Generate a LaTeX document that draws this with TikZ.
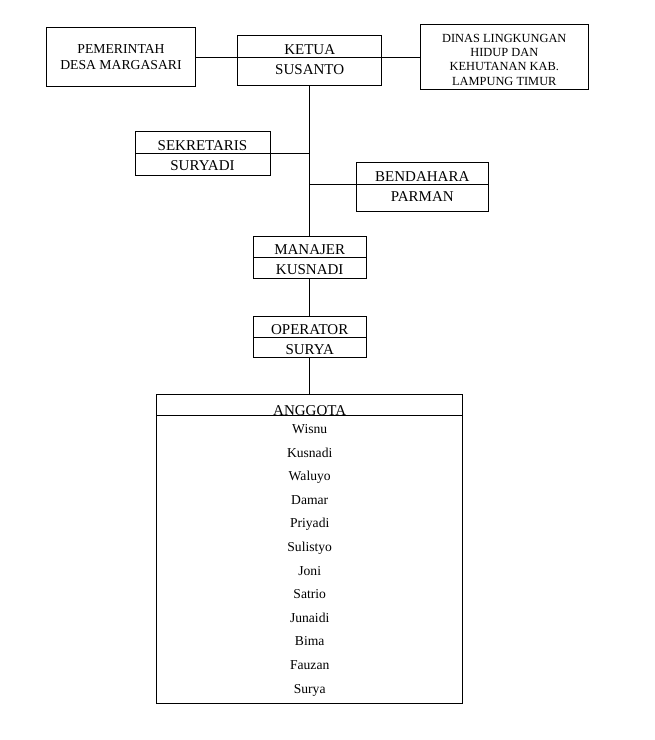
\documentclass[tikz,border=0pt]{standalone}
\usepackage{fontspec}
\setmainfont{Liberation Serif}
\usetikzlibrary{positioning}
\begin{document}
\begin{tikzpicture}
[x=1pt,y=-1pt,line width=0.9pt,
 headbox/.style={draw,outer sep=0pt,inner ysep=0pt,text height=18.5pt,text depth=3pt,font=\fontsize{15}{18}\selectfont},
 namebox/.style={draw,outer sep=0pt,inner ysep=0pt,text height=17pt,text depth=#1,font=\fontsize{15}{18}\selectfont},
 member/.style={anchor=base,font=\fontsize{13.6}{16}\selectfont}]
\useasboundingbox[fill=white] (0,0) rectangle (655,740);
\node[draw,minimum width=148.3pt,minimum height=59.3pt,align=center,font=\fontsize{13.7}{16}\selectfont](pem) at (121,57){PEMERINTAH\\DESA MARGASARI};
\node[draw,minimum width=167.3pt,minimum height=65pt,align=center,font=\fontsize{12.4}{14.4}\selectfont](dinas) at (504.3,57){\rule{0pt}{13.6pt}DINAS LINGKUNGAN\\HIDUP DAN\\KEHUTANAN KAB.\\LAMPUNG TIMUR};
\node[headbox,minimum width=144pt,anchor=north](ketua) at (309.7,35.5){KETUA};
\node[namebox=11pt,minimum width=144pt,below=0pt of ketua](susanto){SUSANTO};
\node[headbox,minimum width=135pt,anchor=north](sekretaris) at (202.5,131.7){SEKRETARIS};
\node[namebox=5.7pt,minimum width=135pt,below=0pt of sekretaris](suryadi){SURYADI};
\node[headbox,minimum width=131.3pt,anchor=north](bendahara) at (422.3,162.7){BENDAHARA};
\node[namebox=10.7pt,minimum width=131.3pt,below=0pt of bendahara](parman){PARMAN};
\node[headbox,minimum width=113pt,below=151pt of susanto](manajer){MANAJER};
\node[namebox=4pt,minimum width=113pt,below=0pt of manajer](kusnadi){KUSNADI};
\node[headbox,minimum width=113pt,below=37.5pt of kusnadi](operator){OPERATOR};
\node[namebox=3pt,minimum width=113pt,below=0pt of operator](surya){SURYA};
\node[headbox,text height=21pt,text depth=0.5pt,minimum width=306.3pt,below=36.5pt of surya](anggota){ANGGOTA};
\node[draw,outer sep=0pt,minimum width=306.3pt,minimum height=287.5pt,below=0pt of anggota](members){};
\foreach \nm [count=\i] in {Wisnu,Kusnadi,Waluyo,Damar,Priyadi,Sulistyo,Joni,Satrio,Junaidi,Bima,Fauzan,Surya}
  \node[member](m\i) at (309.7,409.9+23.6*\i){\nm};
\path (pem) edge (dinas); \path (susanto) edge (manajer);
\path (sekretaris.south east) edge (sekretaris.south east -| susanto.south);
\path (bendahara.south west) edge (bendahara.south west -| susanto.south);
\path (kusnadi) edge (operator); \path (surya) edge (anggota);
\end{tikzpicture}
\end{document}
